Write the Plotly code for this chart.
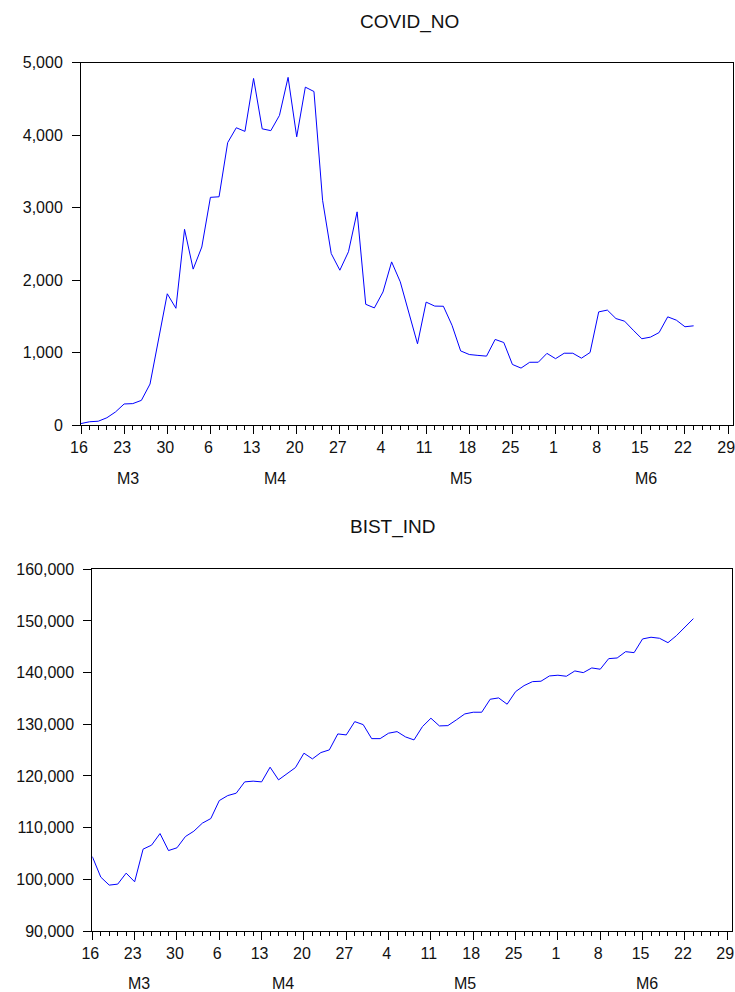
import pandas as pd
import plotly.graph_objects as go

# Business-day observations, 16 Mar 2020 onward (5-day week)
obs_dates = pd.bdate_range("2020-03-16", "2020-06-30")

# Daily new COVID cases
covid_no = [20, 45, 52, 100, 180, 290, 295, 340, 565, 1195, 1810, 1610,
            2699, 2150, 2455, 3140, 3148, 3895,
            4100, 4050, 4780, 4085, 4060, 4270, 4795, 3975, 4660, 4600,
            3100, 2365, 2135, 2390, 2940, 1665, 1615, 1835, 2250, 1975,
            1545, 1120, 1695, 1640, 1638, 1375, 1022, 972, 960, 950,
            1180, 1138, 835, 785, 865, 866, 988, 915, 990, 990,
            922, 1000, 1560, 1585, 1468, 1432, 1308, 1190, 1212, 1275,
            1492, 1446, 1355, 1368]

# Stock index level
bist_ind = [104410, 100430, 98880, 99070, 101200, 99520, 105840, 106610, 108860, 105570,
            106100, 108280, 109320, 110870, 111760, 115240, 116210, 116670, 118860, 119000,
            118860, 121700, 119250, 120410, 121630, 124410, 123310, 124530, 125050, 128140,
            127950, 130520, 129940, 127230, 127230, 128280, 128590, 127560, 126980, 129560,
            131180, 129690, 129750, 130850, 132010, 132340, 132340, 134850, 135110, 133890,
            136330, 137490, 138260, 138340, 139360, 139500, 139300, 140330, 140000, 140910,
            140660, 142710, 142840, 144060, 143870, 146520, 146850, 146650, 145800, 147160,
            148710, 150450]

month_labels = ["M3", "M4", "M5", "M6"]

# observation index positions
obs_x = list(range(len(obs_dates)))
monday_pos = [i for i, d in enumerate(obs_dates) if d.weekday() == 0]
day_labels = [str(obs_dates[i].day) for i in monday_pos]
month_pos = []
for m in (3, 4, 5, 6):
    idx = [i for i, d in enumerate(obs_dates) if d.month == m]
    month_pos.append((idx[0] + idx[-1]) / 2)

W, H = 735, 992
FONT = "Liberation Sans, Arial, sans-serif"
BLUE = "#0000FF"

fig = go.Figure()
fig.add_trace(go.Scatter(x=obs_x[:len(covid_no)], y=covid_no, mode="lines",
                         line=dict(color=BLUE, width=1), xaxis="x", yaxis="y"))
fig.add_trace(go.Scatter(x=obs_x[:len(bist_ind)], y=bist_ind, mode="lines",
                         line=dict(color=BLUE, width=1), xaxis="x2", yaxis="y2"))


def px_dom(a, b, total, flip=False):
    if flip:
        return [(total - b) / total, (total - a) / total]
    return [a / total, b / total]


xrange_ = [0, 75.6]
common_x = dict(range=xrange_, tickmode="array", tickvals=monday_pos, ticktext=day_labels,
                ticks="outside", ticklen=8, tickwidth=1, tickcolor="#000",
                showline=True, linecolor="#000", linewidth=1, mirror=True,
                showgrid=False, zeroline=False, automargin=False,
                ticklabeloverflow="allow", ticklabelstandoff=0, ticklabelshift=-2,
                tickfont=dict(family=FONT, size=16, color="#111"),
                minor=dict(tickmode="linear", tick0=0, dtick=1, ticks="outside",
                           ticklen=4, tickcolor="#000", showgrid=False))
common_y = dict(ticks="outside", ticklen=8, tickwidth=1, tickcolor="#000",
                showline=True, linecolor="#000", linewidth=1, mirror=True,
                showgrid=False, zeroline=False, tickformat=",", automargin=False,
                ticklabelstandoff=6, ticklabeloverflow="allow",
                tickfont=dict(family=FONT, size=16, color="#111"))

fig.update_layout(
    width=W, height=H, margin=dict(l=0, r=0, t=0, b=0),
    paper_bgcolor="white", plot_bgcolor="white", showlegend=False,
    xaxis=dict(domain=px_dom(81, 733.3, W), anchor="y", **common_x),
    yaxis=dict(domain=px_dom(62.5, 425, H, flip=True), anchor="x",
               range=[0, 5000], dtick=1000, **common_y),
    xaxis2=dict(domain=px_dom(92.3, 732.3, W), anchor="y2", **common_x),
    yaxis2=dict(domain=px_dom(569.3, 931, H, flip=True), anchor="x2",
                range=[90000, 160000], dtick=10000, **common_y),
)

annotations = [
    dict(text="COVID_NO", x=410 / W, y=1 - 22 / H, xref="paper", yref="paper",
         showarrow=False, font=dict(family=FONT, size=19, color="#111"),
         xanchor="center", yanchor="middle"),
    dict(text="BIST_IND", x=393 / W, y=1 - 527 / H, xref="paper", yref="paper",
         showarrow=False, font=dict(family=FONT, size=19, color="#111"),
         xanchor="center", yanchor="middle"),
]
for lab, pos in zip(month_labels, month_pos):
    annotations.append(dict(text=lab, x=pos, y=1 - 478 / H, xref="x", yref="paper",
                            showarrow=False, font=dict(family=FONT, size=16, color="#111"),
                            xanchor="center", yanchor="middle"))
    annotations.append(dict(text=lab, x=pos, y=1 - 983 / H, xref="x2", yref="paper",
                            showarrow=False, font=dict(family=FONT, size=16, color="#111"),
                            xanchor="center", yanchor="middle"))
fig.update_layout(annotations=annotations)

fig.write_html("out.html")
